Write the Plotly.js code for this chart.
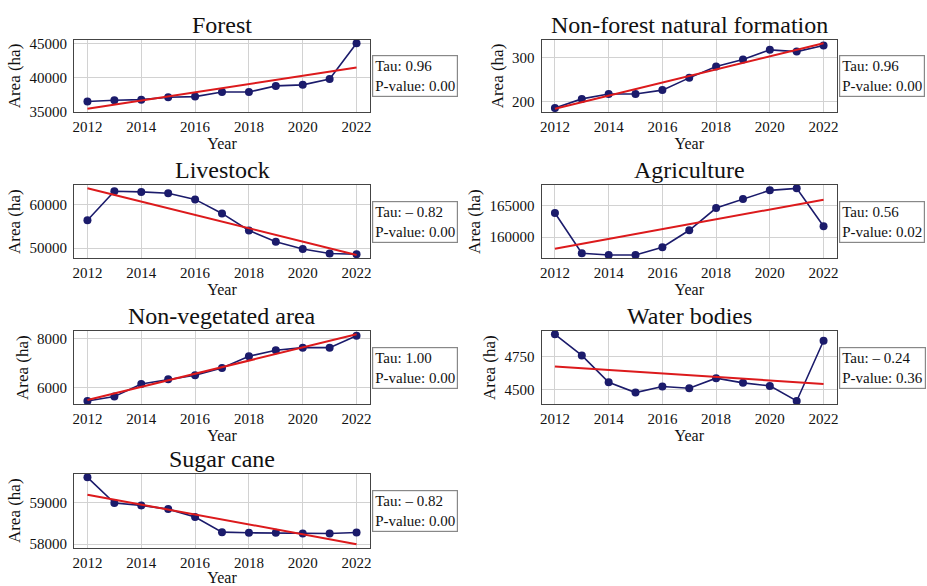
<!DOCTYPE html>
<html>
<head>
<meta charset="utf-8">
<script src="https://cdn.plot.ly/plotly-3.0.1.min.js"></script>
<style>html,body{margin:0;padding:0;background:#fff;}#chart{width:927px;height:586px;}</style>
</head>
<body>
<div id="chart"></div>
<script>
// ---- data ----
const years = [2012, 2013, 2014, 2015, 2016, 2017, 2018, 2019, 2020, 2021, 2022];
const trendYears = [2012, 2022];
const titles = ['Forest', 'Non-forest natural formation', 'Livestock', 'Agriculture', 'Non-vegetated area', 'Water bodies', 'Sugar cane'];

const forest       = [36480, 36680, 36760, 37100, 37200, 37870, 37870, 38770, 38920, 39780, 45000];
const nonForest    = [185, 206, 217, 217, 226, 254, 280, 296, 318, 314, 328];
const livestock    = [56350, 62980, 62840, 62530, 61120, 57920, 54030, 51430, 49780, 48750, 48590];
const agriculture  = [163840, 157400, 157130, 157130, 158360, 161080, 164630, 166070, 167460, 167780, 161710];
const nonVegetated = [5473, 5650, 6162, 6353, 6515, 6811, 7287, 7530, 7635, 7635, 8120];
const waterBodies  = [4921, 4760, 4556, 4477, 4523, 4510, 4587, 4551, 4528, 4413, 4872];
const sugarCane    = [59615, 58993, 58937, 58847, 58654, 58290, 58274, 58274, 58258, 58258, 58283];

const forestTrend       = [35430, 41460];
const nonForestTrend    = [183.5, 333];
const livestockTrend    = [63650, 48430];
const agricultureTrend  = [158140, 165960];
const nonVegetatedTrend = [5514, 8175];
const waterBodiesTrend  = [4676, 4543];
const sugarCaneTrend    = [59194, 58000];

const tau    = [0.96, 0.96, -0.82, 0.56, 1.00, -0.24, -0.82];
const pValue = [0.00, 0.00, 0.00, 0.02, 0.00, 0.36, 0.00];

const series = [forest, nonForest, livestock, agriculture, nonVegetated, waterBodies, sugarCane];
const trends = [forestTrend, nonForestTrend, livestockTrend, agricultureTrend, nonVegetatedTrend, waterBodiesTrend, sugarCaneTrend];
const yDtick = [5000, 100, 10000, 5000, 2000, 250, 1000];

// ---- layout geometry ----
const W = 927, H = 586;
const colX = [[74 / W, 370 / W], [541.5 / W, 837 / W]];
const rowY = [[40, 112], [185, 258.3], [331, 404.3], [474, 547.5]].map(r => [1 - r[1] / H, 1 - r[0] / H]);

const FONT = 'Liberation Serif, Times New Roman, serif';
const navy = '#1b1b6b';
const red = '#dc1a1c';

const traces = [];
const layout = {
  width: W, height: H,
  margin: {l: 0, r: 0, t: 0, b: 0},
  paper_bgcolor: '#fff', plot_bgcolor: '#fff',
  font: {family: FONT, color: '#111', size: 15},
  showlegend: false,
  annotations: []
};

series.forEach((vals, i) => {
  const n = i + 1;
  const xa = 'x' + (n === 1 ? '' : n), ya = 'y' + (n === 1 ? '' : n);
  const xk = 'xaxis' + (n === 1 ? '' : n), yk = 'yaxis' + (n === 1 ? '' : n);
  const col = i % 2, row = Math.floor(i / 2);

  traces.push({x: years, y: vals, xaxis: xa, yaxis: ya, type: 'scatter', mode: 'lines+markers',
    line: {color: navy, width: 1.6}, marker: {color: navy, size: 8}, hoverinfo: 'skip'});
  traces.push({x: trendYears, y: trends[i], xaxis: xa, yaxis: ya, type: 'scatter', mode: 'lines',
    line: {color: red, width: 2}, hoverinfo: 'skip'});

  // matplotlib-like 5% auto margins
  const all = vals.concat(trends[i]);
  const mn = Math.min(...all), mx = Math.max(...all), m = (mx - mn) * 0.05;

  const axCommon = {showline: true, mirror: true, linecolor: '#444', linewidth: 1,
    showgrid: true, gridcolor: '#d2d2d2', gridwidth: 1, zeroline: false, ticks: '',
    tickfont: {family: FONT, size: 15, color: '#111'}};

  layout[xk] = Object.assign({}, axCommon, {domain: colX[col], anchor: ya, range: [2011.5, 2022.5],
    tick0: 2012, dtick: 2, tickformat: 'd', ticklabelstandoff: 1,
    title: {text: 'Year', font: {family: FONT, size: 16, color: '#111'}, standoff: 0}});
  layout[yk] = Object.assign({}, axCommon, {domain: rowY[row], anchor: xa, range: [mn - m, mx + m],
    dtick: yDtick[i], tickformat: 'd', ticklabelstandoff: 3,
    title: {text: 'Area (ha)', font: {family: FONT, size: 17, color: '#111'}, standoff: 4}});

  // panel title
  layout.annotations.push({text: titles[i], xref: xa + ' domain', yref: ya + ' domain', x: 0.5, y: 1,
    xanchor: 'center', yanchor: 'bottom', yshift: 0, showarrow: false,
    font: {family: FONT, size: 24, color: '#111'}});

  // stats box
  const t = tau[i] < 0 ? '\u2013 ' + Math.abs(tau[i]).toFixed(2) : tau[i].toFixed(2);
  layout.annotations.push({text: 'Tau: ' + t + '<br>P-value: ' + pValue[i].toFixed(2),
    xref: xa + ' domain', yref: ya + ' domain', x: 1, y: 0.5, xanchor: 'left', yanchor: 'middle',
    xshift: 2, showarrow: false, align: 'left', bgcolor: '#fff', bordercolor: '#888', borderwidth: 1.2,
    borderpad: 2, font: {family: FONT, size: 15, color: '#111'}});
});

Plotly.newPlot('chart', traces, layout, {staticPlot: true, displayModeBar: false});
</script>
</body>
</html>
